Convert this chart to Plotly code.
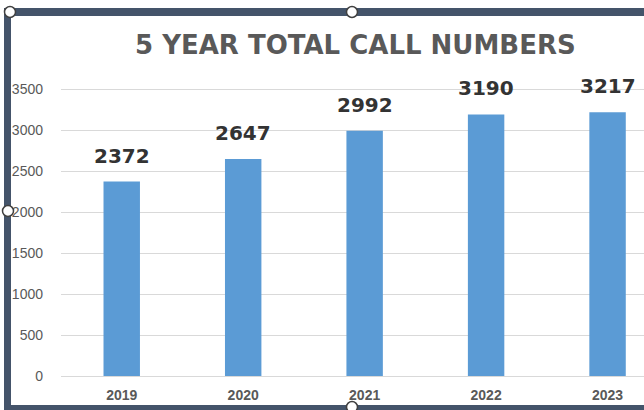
import plotly.graph_objects as go

years = ["2019", "2020", "2021", "2022", "2023"]
calls = [2372, 2647, 2992, 3190, 3217]
y_ticks = [0, 500, 1000, 1500, 2000, 2500, 3000, 3500]

BAR = "#5B9BD5"
FRAME = "#44546A"
TXT = "#595959"

fig = go.Figure()
fig.add_trace(go.Bar(
    x=list(range(len(years))), y=calls, width=0.30,
    marker=dict(color=BAR, line=dict(width=0)),
    hoverinfo="skip",
))

# value labels above each bar
for i, v in enumerate(calls):
    fig.add_annotation(
        x=i, y=v, xref="x", yref="y", text=str(v), showarrow=False,
        yanchor="bottom", yshift=12,
        font=dict(family="DejaVu Sans", size=20, color="#333333", weight="bold"),
    )

# chart title
fig.add_annotation(
    x=(355 - 61) / (644 - 61), y=1 + (70 - 45) / (410 - 70 - 34),
    xref="paper", yref="paper", text="5 YEAR TOTAL CALL NUMBERS",
    showarrow=False, xanchor="center", yanchor="middle",
    font=dict(family="DejaVu Sans", size=26, color=TXT, weight="bold"),
)

fig.update_layout(
    width=644, height=410,
    margin=dict(l=61, r=0, t=70, b=34, autoexpand=False),
    paper_bgcolor="white", plot_bgcolor="white",
    showlegend=False,
    xaxis=dict(
        range=[-0.5, 4.30], tickmode="array",
        tickvals=list(range(len(years))), ticktext=years,
        showgrid=False, zeroline=False, showline=False, ticks="",
        ticklabelstandoff=9,
        tickfont=dict(family="Liberation Sans", size=14, color=TXT, weight="bold"),
        fixedrange=True,
    ),
    yaxis=dict(
        range=[0, 3732], tickmode="array", tickvals=y_ticks,
        showgrid=True, gridcolor="#D9D9D9", gridwidth=1,
        zeroline=True, zerolinecolor="#D9D9D9", zerolinewidth=1,
        showline=False, ticks="", ticklabelstandoff=17,
        tickfont=dict(family="Liberation Sans", size=14, color=TXT),
        fixedrange=True,
    ),
)

# selection frame around the chart object
def px_x(p):
    return (p - 61) / (644 - 61)

def px_y(p):
    return (410 - 34 - p) / (410 - 70 - 34)

frame = [
    (4, 8, 644, 16),     # top edge
    (4, 8, 11, 410),     # left edge
    (4, 405, 644, 410),  # bottom edge
]
for x0, y0, x1, y1 in frame:
    fig.add_shape(type="rect", xref="paper", yref="paper",
                  x0=px_x(x0), x1=px_x(x1), y0=px_y(y1), y1=px_y(y0),
                  fillcolor=FRAME, line=dict(width=0), layer="above")

for cx, cy in [(10, 12), (352, 12), (8, 211), (352, 407)]:
    r = 5.5
    fig.add_shape(type="circle", xref="paper", yref="paper",
                  x0=px_x(cx - r), x1=px_x(cx + r), y0=px_y(cy + r), y1=px_y(cy - r),
                  fillcolor="white", line=dict(color="#404040", width=1.5), layer="above")

fig.write_html("out.html", config={"displayModeBar": False})
